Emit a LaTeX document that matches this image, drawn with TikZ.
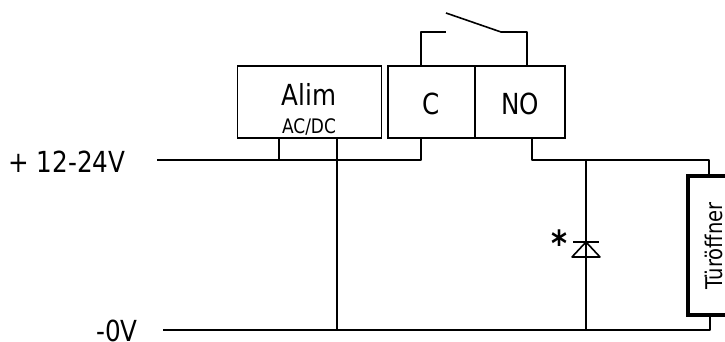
\documentclass[tikz,border=0pt]{standalone}
\usepackage{fontspec}
\setmainfont[FakeStretch=0.85]{DejaVu Sans}
\pgfdeclarelayer{edgelayer}
\pgfdeclarelayer{nodelayer}
\pgfsetlayers{edgelayer,nodelayer,main}
\tikzstyle{block}=[rectangle,draw=black,line width=1.6pt,inner sep=0pt,minimum height=72pt]
\tikzstyle{wire}=[draw=black,line width=1.6pt,line join=round]
\tikzstyle{junction}=[inner sep=0pt,minimum size=0pt]
\tikzstyle{caption}=[anchor=base,font=\fontsize{29}{29}\selectfont]
\begin{document}
\begin{tikzpicture}[x=1pt,y=-1pt]
	\useasboundingbox (0, 0) rectangle (725, 342);
	\begin{pgfonlayer}{nodelayer}
		\node [style=block, minimum width=144pt] (alim) at (309.5, 102) {};
		\node [style=block, minimum width=87.5pt] (c) at (431.5, 102) {};
		\node [style=block, minimum width=90pt] (no) at (520, 102) {};
		\node [style=block, line width=4pt, minimum width=46pt, minimum height=139pt] (door) at (711, 245) {};
		\node [style=caption] (alimtext) at (309, 106) {Alim};
		\node [style=caption, font=\fontsize{20}{20}\selectfont] (acdc) at (309, 133) {AC/DC};
		\node [style=caption] (ctext) at (431, 115) {C};
		\node [style=caption] (notext) at (520, 115) {NO};
		\node [style=caption] (plus) at (67, 172) {+ 12-24V};
		\node [style=caption, inner sep=0pt] (zero) at (117, 341) {-0V};
		\node [style=caption, inner sep=0pt, font=\fontsize{23}{23}\selectfont, rotate=90] (doortext) at (722, 246) {Türöffner};
		\node [style=caption, font=\bfseries\fontsize{36}{36}\selectfont] (star) at (559, 256) {*};
		\node [style=junction] (in1) at (157, 160) {};
		\node [style=junction] (in2) at (163, 330) {};
		\node [style=junction] (tap) at (279, 160) {};
		\node [style=junction] (drop) at (337, 160) {};
		\node [style=junction] (bus) at (337, 330) {};
		\node [style=junction] (corner) at (421, 160) {};
		\node [style=junction] (cup) at (421, 32) {};
		\node [style=junction] (pivot) at (446, 32) {};
		\node [style=junction] (blade) at (446, 13) {};
		\node [style=junction] (hinge) at (501, 32) {};
		\node [style=junction] (noup) at (527, 32) {};
		\node [style=junction] (nolow) at (532, 160) {};
		\node [style=junction] (dtop) at (586, 160) {};
		\node [style=junction] (dbot) at (586, 330) {};
		\node [style=junction] (dbar) at (586, 242) {};
		\node [style=junction] (dbase) at (586, 257) {};
		\node [style=junction] (rtop) at (709, 160) {};
		\node [style=junction] (rbot) at (710, 330) {};
	\end{pgfonlayer}
	\begin{pgfonlayer}{edgelayer}
		\draw [style=wire] (in1.center) -- (corner.center) -- (corner.center |- c.south);
		\draw [style=wire] (tap.center) -- (tap.center |- alim.south);
		\draw [style=wire] (drop.center |- alim.south) -- (bus.center);
		\draw [style=wire] (in2.center) -- (rbot.center) -- (rbot.center |- door.south);
		\draw [style=wire] (cup.center |- c.north) -- (cup.center) -- (pivot.center);
		\draw [style=wire] (blade.center) -- (hinge.center) -- (noup.center) -- (noup.center |- no.north);
		\draw [style=wire] (nolow.center |- no.south) -- (nolow.center) -- (rtop.center) -- (rtop.center |- door.north);
		\draw [style=wire] (dtop.center) -- (dbot.center);
		\draw [style=wire] ([xshift=-13pt]dbar.center) -- ([xshift=13pt]dbar.center);
		\draw [style=wire] (dbar.center) -- ([xshift=-14pt]dbase.center) -- ([xshift=14pt]dbase.center) -- cycle;
	\end{pgfonlayer}
\end{tikzpicture}
\end{document}
